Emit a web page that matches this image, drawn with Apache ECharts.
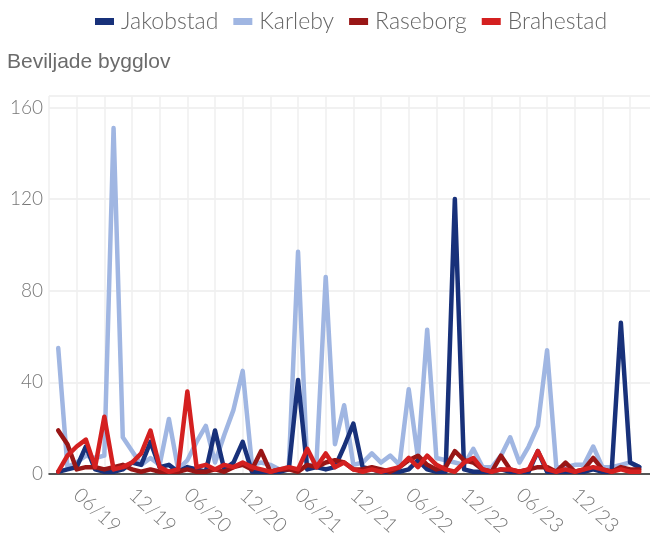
<!DOCTYPE html>
<html>
<head>
<meta charset="utf-8">
<script src="https://cdn.jsdelivr.net/npm/echarts@6/dist/echarts.min.js"></script>
<style>
  html, body { margin: 0; padding: 0; background: #fff; overflow: hidden; }
  /* a bit wider than the window: the plot runs past the right edge */
  #chart { width: 660px; height: 541px; }
</style>
</head>
<body>
<div id="chart"></div>
<script>
// months (MM/YY), one point per month
const months = [
    '04/19', '05/19', '06/19', '07/19', '08/19', '09/19', '10/19', '11/19', '12/19',
    '01/20', '02/20', '03/20', '04/20', '05/20', '06/20', '07/20', '08/20', '09/20', '10/20', '11/20', '12/20',
    '01/21', '02/21', '03/21', '04/21', '05/21', '06/21', '07/21', '08/21', '09/21', '10/21', '11/21', '12/21',
    '01/22', '02/22', '03/22', '04/22', '05/22', '06/22', '07/22', '08/22', '09/22', '10/22', '11/22', '12/22',
    '01/23', '02/23', '03/23', '04/23', '05/23', '06/23', '07/23', '08/23', '09/23', '10/23', '11/23', '12/23',
    '01/24', '02/24', '03/24', '04/24', '05/24', '06/24', '07/24',
]

const jakobstad = [
    1, 2, 3, 12, 2, 1, 1, 2, 5,
    4, 14, 3, 4, 1, 3, 2, 1, 19, 2, 5, 14,
    1, 1, 1, 1, 2, 41, 2, 3, 2, 3, 12, 22,
    3, 2, 1, 1, 1, 2, 6, 2, 1, 1, 120, 2,
    1, 1, 1, 2, 1, 1, 1, 10, 1, 1, 1, 1,
    1, 2, 1, 1, 66, 5, 3,
]
const karleby = [
    55, 3, 5, 8, 7, 8, 151, 16, 10,
    4, 7, 4, 24, 2, 6, 14, 21, 5, 17, 28, 45,
    4, 5, 4, 2, 3, 97, 3, 5, 86, 13, 30, 4,
    5, 9, 5, 8, 4, 37, 7, 63, 7, 6, 5, 4,
    11, 3, 3, 8, 16, 5, 12, 21, 54, 3, 3, 4,
    4, 12, 3, 3, 4, 5, 3,
]
const raseborg = [
    19, 13, 2, 3, 3, 2, 3, 4, 2,
    1, 2, 1, 1, 1, 2, 1, 1, 2, 1, 3, 4,
    2, 10, 1, 2, 2, 1, 4, 3, 5, 6, 5, 2,
    2, 3, 2, 1, 3, 6, 8, 4, 2, 3, 10, 6,
    5, 2, 1, 8, 2, 1, 2, 3, 3, 1, 5, 1,
    2, 7, 2, 1, 3, 2, 2,
]
const brahestad = [
    1, 8, 12, 15, 3, 25, 2, 3, 5,
    9, 19, 3, 1, 2, 36, 3, 4, 2, 4, 3, 5,
    3, 2, 1, 2, 3, 2, 11, 3, 9, 3, 5, 2,
    1, 2, 1, 2, 3, 7, 3, 8, 4, 2, 1, 5,
    7, 2, 1, 2, 2, 1, 2, 10, 2, 1, 2, 1,
    2, 3, 2, 1, 2, 1, 1,
]

const yTicks = [0, 40, 80, 120, 160]
const lastLabel = '12/23'

// position on the x axis: months since 03/19
const monthPos = (label) => {
    const [mm, yy] = label.split('/').map(Number)
    return (yy - 19) * 12 + (mm - 3)
}
const posLabel = (pos) => {
    const total = pos + 2
    const mm = (total % 12) + 1
    const yy = 19 + Math.floor(total / 12)
    return String(mm).padStart(2, '0') + '/' + yy
}
const toPoints = (values) => months.map((m, i) => [monthPos(m), values[i]])

const lightFont = 'Lato'
const chart = echarts.init(document.getElementById('chart'))

const lineSeries = (name, values, color) => ({
    name,
    type: 'line',
    data: toPoints(values),
    symbol: 'none',
    lineStyle: {
        width: 4.5,
        color,
        cap: 'round',
        join: 'round',
    },
    itemStyle: {
        color,
    },
})

chart.setOption({
    animation: false,
    title: {
        text: 'Beviljade bygglov',
        left: 2,
        top: 47,
        textStyle: {
            fontFamily: 'Liberation Sans',
            fontWeight: 'normal',
            fontSize: 21,
            color: '#6b6b6b',
        },
    },
    legend: {
        data: ['Jakobstad', 'Karleby', 'Raseborg', 'Brahestad'],
        top: 5,
        left: 90,
        itemWidth: 19,
        itemHeight: 7,
        itemGap: 15,
        icon: 'rect',
        textStyle: {
            fontFamily: lightFont,
            fontWeight: 300,
            fontSize: 23,
            color: '#666',
            padding: [0, 0, 0, 2],
        },
    },
    grid: {
        left: 49,
        right: 0,
        top: 96,
        bottom: 67,
    },
    xAxis: {
        type: 'value',
        min: 0,
        max: 66,
        interval: 3,
        axisLine: {
            show: true,
            onZero: false,
            lineStyle: {
                color: '#222',
                width: 1.5,
            },
        },
        axisTick: {
            show: false,
        },
        splitLine: {
            show: true,
            lineStyle: {
                color: '#efefef',
                width: 1.5,
            },
        },
        axisLabel: {
            rotate: -42,
            margin: 18,
            fontFamily: lightFont,
            fontWeight: 300,
            fontSize: 20,
            color: '#777',
            formatter: (v) => ((v - 3) % 6 === 0 && v <= monthPos(lastLabel) ? posLabel(v) : ''),
        },
    },
    yAxis: {
        type: 'value',
        min: yTicks[0],
        max: 165,
        interval: yTicks[1] - yTicks[0],
        axisLine: {
            show: false,
        },
        axisTick: {
            show: false,
        },
        splitLine: {
            lineStyle: {
                color: '#f1f1f1',
                width: 2,
            },
        },
        axisLabel: {
            margin: 6,
            fontFamily: lightFont,
            fontWeight: 300,
            fontSize: 19,
            color: '#777',
            showMaxLabel: false,
        },
    },
    series: [
        lineSeries('Karleby', karleby, '#a0b6e2'),
        lineSeries('Jakobstad', jakobstad, '#18317a'),
        lineSeries('Raseborg', raseborg, '#991616'),
        lineSeries('Brahestad', brahestad, '#d42020'),
    ],
})
</script>
</body>
</html>
